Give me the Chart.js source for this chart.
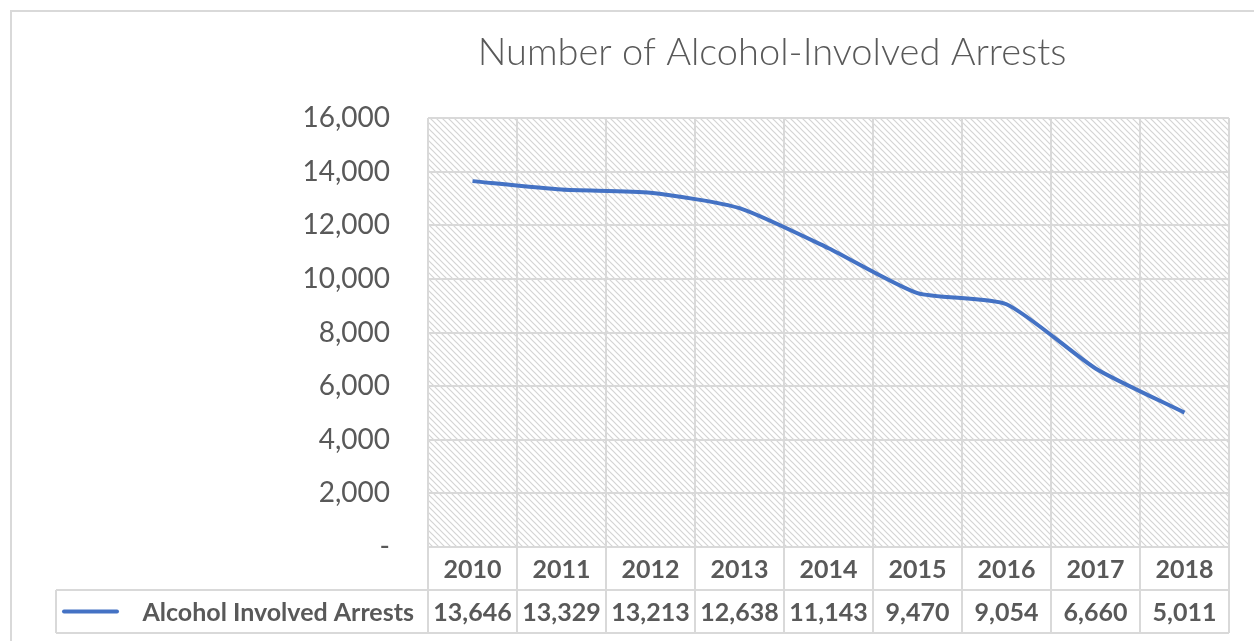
<!DOCTYPE html>
<html>
<head>
<meta charset="utf-8">
<script src="https://cdn.jsdelivr.net/npm/chart.js@4"></script>
<style>
  html, body { margin: 0; padding: 0; background: #fff; }
  #wrap { width: 1254px; height: 641px; position: relative; }
</style>
</head>
<body>
<div id="wrap"><canvas id="arrestsChart"></canvas></div>
<script>
// ---- data ----
const years = ['2010', '2011', '2012', '2013', '2014', '2015', '2016', '2017', '2018'];
const arrests = [13646, 13329, 13213, 12638, 11143, 9470, 9054, 6660, 5011];
const seriesName = 'Alcohol Involved Arrests';
const chartTitle = 'Number of Alcohol-Involved Arrests';
const yTicks = [0, 2000, 4000, 6000, 8000, 10000, 12000, 14000, 16000];

const textColor = '#595959';
const lineColor = '#4472C4';
const gridColor = '#d9d9d9';
const fontFamily = 'Lato, "Open Sans", sans-serif';

// hatch pattern for the plot area
function makeHatch() {
    const c = document.createElement('canvas');
    c.width = 6; c.height = 6;
    const g = c.getContext('2d');
    g.fillStyle = '#fff';
    g.fillRect(0, 0, 6, 6);
    g.strokeStyle = '#d4d4d4';
    g.lineWidth = 1.2;
    g.beginPath();
    g.moveTo(-1, -1); g.lineTo(7, 7);
    g.moveTo(-1, 5); g.lineTo(1, 7);
    g.moveTo(5, -1); g.lineTo(7, 1);
    g.stroke();
    return c;
}

const fmt = v => v.toLocaleString('en-US');

/* ================= PLUGINS ================= */
const backdrop = {
    id: 'backdrop',
    beforeDraw(chart) {
        const { ctx, chartArea: a } = chart;
        ctx.save();
        // outer chart border
        ctx.strokeStyle = gridColor;
        ctx.lineWidth = 2;
        ctx.beginPath();
        ctx.moveTo(11, 645);
        ctx.lineTo(11, 11);
        ctx.lineTo(1260, 11);
        ctx.stroke();
        // hatched plot area
        ctx.fillStyle = ctx.createPattern(makeHatch(), 'repeat');
        ctx.fillRect(a.left, a.top, a.right - a.left, a.bottom - a.top);
        // title
        ctx.fillStyle = textColor;
        ctx.font = '300 38px ' + fontFamily;
        ctx.textAlign = 'center';
        ctx.textBaseline = 'middle';
        ctx.fillText(chartTitle, 772, 53);
        ctx.restore();
    }
};

const dataTable = {
    id: 'dataTable',
    afterDraw(chart) {
        const { ctx, chartArea: a } = chart;
        const x = chart.scales.x;
        const half = (x.getPixelForValue(1) - x.getPixelForValue(0)) / 2;
        const top = a.bottom, mid = a.bottom + 43, bot = a.bottom + 86;
        const legendLeft = 56;
        ctx.save();
        ctx.strokeStyle = gridColor;
        ctx.lineWidth = 2;
        ctx.beginPath();
        ctx.moveTo(a.left, top); ctx.lineTo(a.right, top);
        ctx.moveTo(legendLeft, mid); ctx.lineTo(a.right, mid);
        ctx.moveTo(legendLeft, bot); ctx.lineTo(a.right, bot);
        ctx.moveTo(legendLeft, mid); ctx.lineTo(legendLeft, bot);
        for (let i = 0; i <= years.length; i++) {
            const px = x.getPixelForValue(i) - half;
            ctx.moveTo(px, top); ctx.lineTo(px, bot);
        }
        ctx.stroke();

        ctx.fillStyle = textColor;
        ctx.font = 'bold 25px ' + fontFamily;
        ctx.textAlign = 'center';
        ctx.textBaseline = 'middle';
        years.forEach((yr, i) => {
            const px = x.getPixelForValue(i);
            ctx.fillText(yr, px, (top + mid) / 2 + 1);
            ctx.fillText(fmt(arrests[i]), px, (mid + bot) / 2 + 1);
        });

        // legend key
        ctx.strokeStyle = lineColor;
        ctx.lineWidth = 4;
        ctx.lineCap = 'round';
        ctx.beginPath();
        ctx.moveTo(64, (mid + bot) / 2);
        ctx.lineTo(117, (mid + bot) / 2);
        ctx.stroke();
        ctx.textAlign = 'right';
        ctx.fillText(seriesName, a.left - 14, (mid + bot) / 2 + 1);
        ctx.restore();
    }
};

/* ================= CHART ================= */
new Chart(document.getElementById('arrestsChart'), {
    type: 'line',
    data: {
        labels: years,
        datasets: [{
            label: seriesName,
            data: arrests,
            borderColor: lineColor,
            borderWidth: 4,
            tension: 0.2,
            pointRadius: 0,
            fill: false
        }]
    },
    options: {
        responsive: true,
        maintainAspectRatio: false,
        animation: false,
        layout: { padding: { top: 118, right: 25, bottom: 94, left: 0 } },
        plugins: {
            legend: { display: false },
            tooltip: { enabled: false }
        },
        scales: {
            x: {
                offset: true,
                border: { display: false },
                grid: { offset: true, color: gridColor, lineWidth: 2, drawTicks: false },
                ticks: { display: false }
            },
            y: {
                min: 0,
                max: 16000,
                afterBuildTicks(scale) {
                    scale.ticks = yTicks.map(v => ({ value: v }));
                },
                afterFit(scale) { scale.width = 428; },
                border: { display: false },
                grid: { color: gridColor, lineWidth: 2, drawTicks: false },
                ticks: {
                    padding: 38,
                    color: textColor,
                    font: { family: fontFamily, size: 28 },
                    callback: v => v === 0 ? '-' : fmt(v)
                }
            }
        }
    },
    plugins: [backdrop, dataTable]
});
</script>
</body>
</html>
